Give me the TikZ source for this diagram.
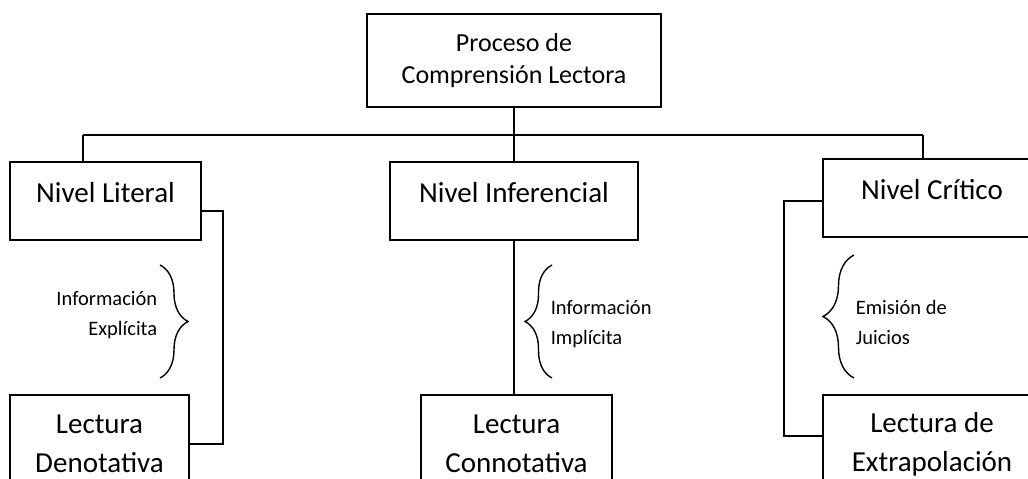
\documentclass[tikz,border=0pt]{standalone}
\usepackage{fontspec}
\setmainfont{Carlito}
\usetikzlibrary{decorations.pathreplacing}

\tikzset{
	caja/.style = {draw, line width = 1.6pt, align = center, inner sep = 0pt},
	nivel/.style = {caja, font = \fontsize{29}{39}\selectfont, text height = 40pt, text depth = 38pt},
	lectura/.style = {caja, font = \fontsize{29}{39}\selectfont, minimum height = 98pt, anchor = north},
	nota/.style = {font = \fontsize{20.5}{29.5}\selectfont, inner sep = 0pt},
	llave/.style = {decorate, line width = 1.4pt, decoration = {brace, amplitude = #1}}
}

\begin{document}

\begin{tikzpicture}[x = 1pt, y = -1pt, line width = 1.6pt]

	% Page
	
	\useasboundingbox (0, 0) rectangle (1028, 479);
	\clip (0, 0) rectangle (1028, 479);

	% Boxes
	
	\node [caja, font = \fontsize{26}{32}\selectfont, minimum width = 294pt, minimum height = 93pt]
		(proceso) at (514, 60.5) {Proceso de\\Comprensión Lectora};
	
	\node [nivel, minimum width = 191pt, anchor = base] (literal) at (105.5, 202) {Nivel Literal};
	\node [nivel, minimum width = 248pt, anchor = base] (inferencial) at (514, 202) {Nivel Inferencial};
	\node [nivel, minimum width = 218pt, anchor = base] (critico) at (932, 199) {Nivel Crítico};
	
	\node [lectura, minimum width = 179pt] (denotativa) at (99.5, 394) {Lectura\\Denotativa};
	\node [lectura, minimum width = 191pt] (connotativa) at (516.5, 394) {Lectura\\Connotativa};
	\node [lectura, minimum width = 218pt] (extrapolacion) at (932, 394) {Lectura de\\Extrapolación};
	
	% Tree lines
	
	\coordinate (izq) at (83, 135);
	\coordinate (der) at (923, 135);
	
	\draw (izq) -- (der);
	\draw (izq) -- (izq |- literal.north);
	\draw (der) -- (der |- critico.north);
	\draw (proceso.south) -- (inferencial.north);
	
	% Side connectors
	
	\draw ([yshift = -10pt] literal.east) -- ++(21, 0) |- (denotativa.east);
	\draw (inferencial.south) -- (inferencial.south |- connotativa.north);
	\draw ([yshift = -3pt] critico.west) -- ++(-38, 0) |- ([yshift = 8pt] extrapolacion.west);
	
	% Braces
	
	\draw [llave = 28] (160, 265) -- (160, 378);
	\draw [llave = 27] (552, 378) -- (552, 265);
	\draw [llave = 31] (854, 378) -- (854, 255);
	
	% Labels (base is the last line)
	
	\node [nota, align = right, anchor = base east] (explicita) at (158, 335) {Información\\Explícita};
	\node [nota, align = left, anchor = base west] (implicita) at (550, 344) {Información\\Implícita};
	\node [nota, align = left, anchor = base west] (juicios) at (855, 344) {Emisión de\\Juicios};
	
\end{tikzpicture}

\end{document}
